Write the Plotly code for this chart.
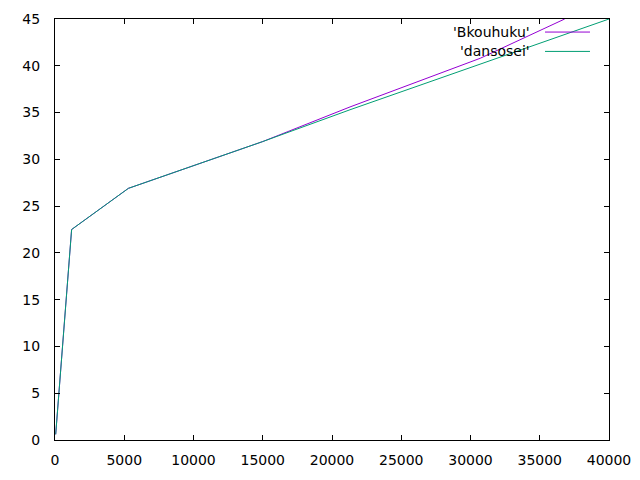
import plotly.graph_objects as go

# Series data
bk_x = [50, 1200, 5300, 15000, 21300, 30700, 36800]
bk_y = [0.6, 22.5, 26.9, 31.9, 35.6, 40.8, 45.0]
ds_x = [50, 1200, 5300, 15000, 21300, 30700, 40000]
ds_y = [0.6, 22.5, 26.9, 31.9, 35.3, 40.2, 45.0]

series_names = ["'Bkouhuku'", "'dansosei'"]
series_colors = ["#9400D3", "#009E73"]

x_ticks = list(range(0, 40001, 5000))
y_ticks = list(range(0, 46, 5))

FONT = "DejaVu Sans, Liberation Sans, sans-serif"

fig = go.Figure()
fig.add_trace(go.Scatter(x=bk_x, y=bk_y, mode="lines", name=series_names[0],
                         line=dict(color=series_colors[0], width=1), showlegend=False))
fig.add_trace(go.Scatter(x=ds_x, y=ds_y, mode="lines", name=series_names[1],
                         line=dict(color=series_colors[1], width=1), showlegend=False))

axis_common = dict(showline=True, linecolor="black", linewidth=1, mirror="ticks",
                   ticks="inside", ticklen=5, tickcolor="black", tickwidth=1,
                   showgrid=False, zeroline=False, automargin=False,
                   tickfont=dict(family=FONT, size=14, color="black"))

fig.update_layout(
    width=640, height=480, autosize=False,
    margin=dict(l=55, r=31, t=19, b=40, pad=0),
    paper_bgcolor="white", plot_bgcolor="white",
    xaxis=dict(range=[0, 40000], tickvals=x_ticks, ticktext=[str(v) for v in x_ticks],
               ticklabelstandoff=7, **axis_common),
    yaxis=dict(range=[0, 45], tickvals=y_ticks, ticktext=[str(v) for v in y_ticks],
               ticklabelstandoff=11, **axis_common),
    showlegend=False,
)

# gnuplot-style key: text right-aligned, sample line to the right
key_y = [0.969, 0.923]
for name, color, ky in zip(series_names, series_colors, key_y):
    fig.add_annotation(x=0.8605, y=ky, xref="paper", yref="paper", text=name,
                       showarrow=False, xanchor="right", yanchor="middle",
                       font=dict(family=FONT, size=14, color="black"))
    fig.add_shape(type="line", xref="paper", yref="paper", x0=0.8845, x1=0.9657,
                  y0=ky, y1=ky, line=dict(color=color, width=1))

fig.write_html("out.html", config={"displayModeBar": False},
               post_script="document.body.style.margin='0';document.body.style.padding='0';")
